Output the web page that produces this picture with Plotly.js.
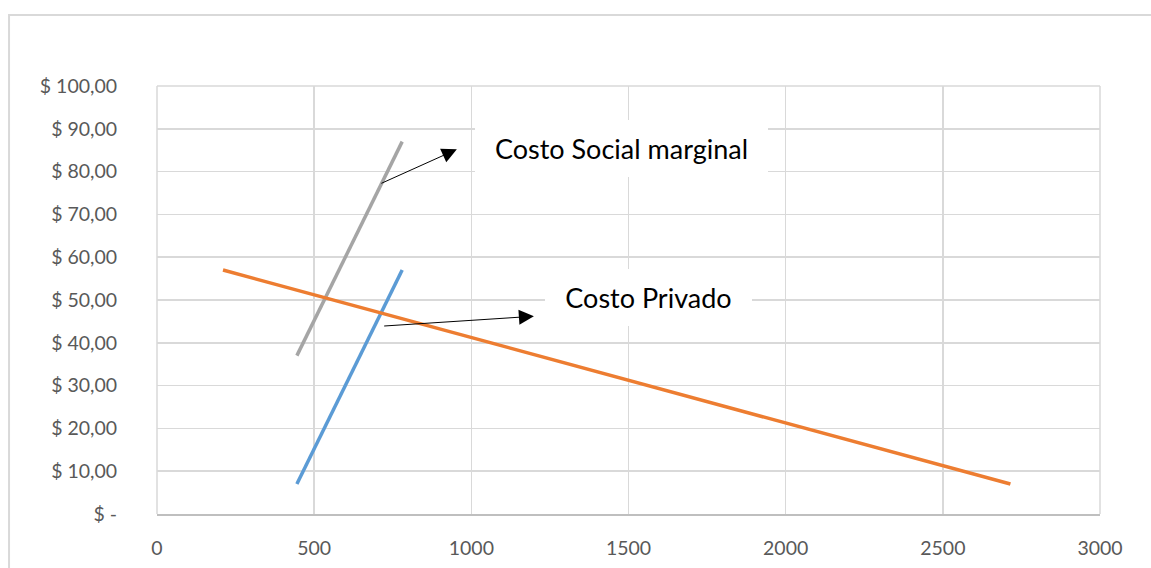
<!DOCTYPE html>
<html>
<head>
<meta charset="utf-8">
<script src="https://cdn.plot.ly/plotly-3.0.1.min.js"></script>
<style>
  html, body { margin: 0; padding: 0; background: #ffffff; }
  #chart { width: 1151px; height: 568px; }
</style>
</head>
<body>
<div id="chart"></div>
<script>
// Quantity / price pairs for each curve
const socialQ = [445, 780];
const socialP = [37, 87];

const privateQ = [445, 780];
const privateP = [7, 57];

const demandQ = [210, 2715];
const demandP = [57, 7];

// Axis ticks
const xTicks = [0, 500, 1000, 1500, 2000, 2500, 3000];
const yTicks = [0, 10, 20, 30, 40, 50, 60, 70, 80, 90, 100];
const yTickText = ['$ -', '$ 10,00', '$ 20,00', '$ 30,00', '$ 40,00', '$ 50,00',
                   '$ 60,00', '$ 70,00', '$ 80,00', '$ 90,00', '$ 100,00'];

// Callout labels: text, box centre, arrow tail and arrow tip (data units)
const labelText = ['Costo Social marginal', 'Costo Privado'];
const labelX = [1479, 1564];
const labelY = [85.5, 50.6];
const labelW = [293, 207];
const arrowTailX = [709, 718];
const arrowTailY = [77.1, 43.9];
const arrowTipX = [954, 1199];
const arrowTipY = [85.2, 46.2];

const FONT = 'Lato, "Liberation Sans", Arial, sans-serif';

const traces = [
  { x: socialQ, y: socialP, mode: 'lines', name: 'Costo Social marginal',
    line: { color: '#a5a5a5', width: 3.5 }, hoverinfo: 'x+y' },
  { x: privateQ, y: privateP, mode: 'lines', name: 'Costo Privado',
    line: { color: '#5b9bd5', width: 3.5 }, hoverinfo: 'x+y' },
  { x: demandQ, y: demandP, mode: 'lines', name: 'Demanda',
    line: { color: '#ed7d31', width: 3.5 }, hoverinfo: 'x+y' }
];

const annotations = [];
labelText.forEach((t, i) => {
  // white label box
  annotations.push({
    x: labelX[i], y: labelY[i], xref: 'x', yref: 'y',
    text: t, showarrow: false,
    font: { family: FONT, size: 27, color: '#000000' },
    bgcolor: '#ffffff', borderwidth: 0, borderpad: 0,
    width: labelW[i], height: 57, align: 'center', valign: 'middle'
  });
  // pointer arrow
  annotations.push({
    x: arrowTipX[i], y: arrowTipY[i], xref: 'x', yref: 'y',
    ax: arrowTailX[i], ay: arrowTailY[i], axref: 'x', ayref: 'y',
    text: '', showarrow: true,
    arrowhead: 2, arrowsize: 3, arrowwidth: 1, arrowcolor: '#000000'
  });
});

const layout = {
  width: 1151, height: 568,
  margin: { l: 157, r: 51, t: 86, b: 54.3 },
  paper_bgcolor: '#ffffff', plot_bgcolor: '#ffffff',
  showlegend: false,
  font: { family: FONT, size: 19, color: '#595959' },
  xaxis: {
    range: [0, 3000], tickvals: xTicks, ticktext: xTicks.map(String),
    showgrid: true, gridcolor: '#d9d9d9', gridwidth: 1.5,
    zeroline: false, showline: true, linecolor: '#bfbfbf', linewidth: 1.5,
    ticks: 'outside', ticklen: 16, tickcolor: 'rgba(0,0,0,0)',
    tickfont: { family: FONT, size: 19.5, color: '#595959' },
    fixedrange: true
  },
  yaxis: {
    range: [0, 100], tickvals: yTicks, ticktext: yTickText,
    showgrid: true, gridcolor: '#d9d9d9', gridwidth: 1.5,
    zeroline: false, showline: false,
    ticks: 'outside', ticklen: 35, tickcolor: 'rgba(0,0,0,0)',
    tickfont: { family: FONT, size: 19.5, color: '#595959' },
    fixedrange: true
  },
  shapes: [
    // chart area frame
    { type: 'rect', xref: 'paper', yref: 'paper', layer: 'below',
      x0: -0.1569, x1: 1.2, y0: -0.3, y1: 1.166,
      line: { color: '#d9d9d9', width: 2 }, fillcolor: 'rgba(0,0,0,0)' },
    // plot edges where gridlines sit on the range limits
    { type: 'line', xref: 'paper', yref: 'paper', layer: 'below',
      x0: 1, x1: 1, y0: 0, y1: 1, line: { color: '#d9d9d9', width: 1.5 } },
    { type: 'line', xref: 'paper', yref: 'paper', layer: 'below',
      x0: 0, x1: 0, y0: 0, y1: 1, line: { color: '#d9d9d9', width: 1.5 } },
    { type: 'line', xref: 'paper', yref: 'paper', layer: 'below',
      x0: 0, x1: 1, y0: 1, y1: 1, line: { color: '#d9d9d9', width: 1.5 } }
  ],
  annotations: annotations
};

Plotly.newPlot('chart', traces, layout, { displayModeBar: false, staticPlot: true });
</script>
</body>
</html>
